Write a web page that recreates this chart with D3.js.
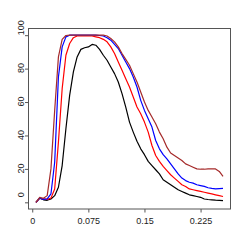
<!DOCTYPE html>
<html><head><meta charset="utf-8">
<script src="https://cdn.jsdelivr.net/npm/d3@7/dist/d3.min.js"></script>
<style>body{margin:0;background:#fff}svg{display:block}</style>
</head><body>
<script>
const xValues = d3.range(51).map(i => +(0.005 + i * 0.005).toFixed(3));
const blackSeries = [0,2.5,1.5,1.2,2,4,9,22,44,64,78,87,91.5,92.5,93,94.5,94,91.5,88,85,81,77,72,65,57,48,42,36.5,32,28.5,24.5,22,19.5,17,13.5,12,10.5,9,7.5,6.5,5.5,4.5,4,3.5,3,2,1.7,1.5,1.3,1.2,1];
const redSeries = [0,2.5,2,1.8,2.5,8,36,68,88,95,98.5,99.5,99.6,99.6,99.6,99.5,99,98.5,97.5,96,93,89,84,79,74,69,63,57,53,48,42,34,28,24.5,21.5,19,16.5,14.5,12.5,10.5,9.5,8,7.5,7,6.5,6,5.5,5,4.5,4,3.5];
const blueSeries = [0,2.5,1.8,2,5,24,75,93,99,100,100,100,100,100,100,100,100,99.8,99.5,98.5,97,94.5,92,88,84,80,75,69,61,55,50,45,37,32,28.5,26,23,20,17,14.5,13,12,11.5,10.5,10,9.5,8.7,8.3,8,8.2,8.3];
const brownSeries = [0,3,2.4,4,20,55,87,97.5,99.8,100,100,100,100,100,100,100,100,100,100,99.5,98,96,93,89,85.5,82,77,72,66,60,55,51,47,42,38,33,29.5,28,26.5,25,23,22,21,20,19.8,19.8,20,20,20,18.5,15.5];
const xTicks = [0, 0.075, 0.15, 0.225];
const xTickLabels = ["0", "0.075", "0.15", "0.225"];
const yTicks = [0, 20, 40, 60, 80, 100];
const yTickLabels = ["0", "20", "40", "60", "80", "100"];
const seriesList = [
  {values: blackSeries, color: "#000000"},
  {values: redSeries, color: "#ff0000"},
  {values: blueSeries, color: "#0000ff"},
  {values: brownSeries, color: "#a52a2a"}
];

const W = 245, H = 245;
const L = 28.5, R = 230.5, T = 28.5, B = 209;
const svg = d3.select("body").append("svg").attr("width", W).attr("height", H);
const x = d3.scaleLinear().domain([-0.005, 0.265]).range([L, R]);
const y = d3.scaleLinear().domain([-4, 104]).range([B, T]);

svg.append("rect").attr("x", L).attr("y", T).attr("width", R - L).attr("height", B - T)
  .attr("fill", "none").attr("stroke", "#555").attr("stroke-width", 1);

const xAxis = svg.append("g").attr("transform", `translate(0,${B})`)
  .call(d3.axisBottom(x).tickValues(xTicks).tickFormat((d, i) => xTickLabels[i]).tickSize(3.5).tickPadding(5));
const yAxis = svg.append("g").attr("transform", `translate(${L},0)`)
  .call(d3.axisLeft(y).tickValues(yTicks).tickFormat((d, i) => yTickLabels[i]).tickSize(3.5).tickPadding(4));
[xAxis, yAxis].forEach(a => {
  a.select(".domain").remove();
  a.selectAll("line").attr("stroke", "#555");
  a.selectAll("text").attr("fill", "#222").style("font-family", "'Liberation Sans', Arial, sans-serif").style("font-size", "9px");
});
const lastY = yTicks.length - 1;
yAxis.selectAll("text")
  .attr("text-anchor", "middle")
  .attr("dy", null)
  .attr("x", null)
  .attr("y", 0)
  .attr("transform", (d, i) => `translate(-4.5,${(i === 0 || i === lastY) ? -8 : -1}) rotate(-90)`);

const line = d3.line().x((d, i) => x(xValues[i])).y(d => y(d));
svg.append("g").selectAll("path").data(seriesList).join("path")
  .attr("d", s => line(s.values))
  .attr("fill", "none")
  .attr("stroke", s => s.color)
  .attr("stroke-width", 1.2)
  .attr("stroke-linejoin", "round");
</script>
</body></html>
